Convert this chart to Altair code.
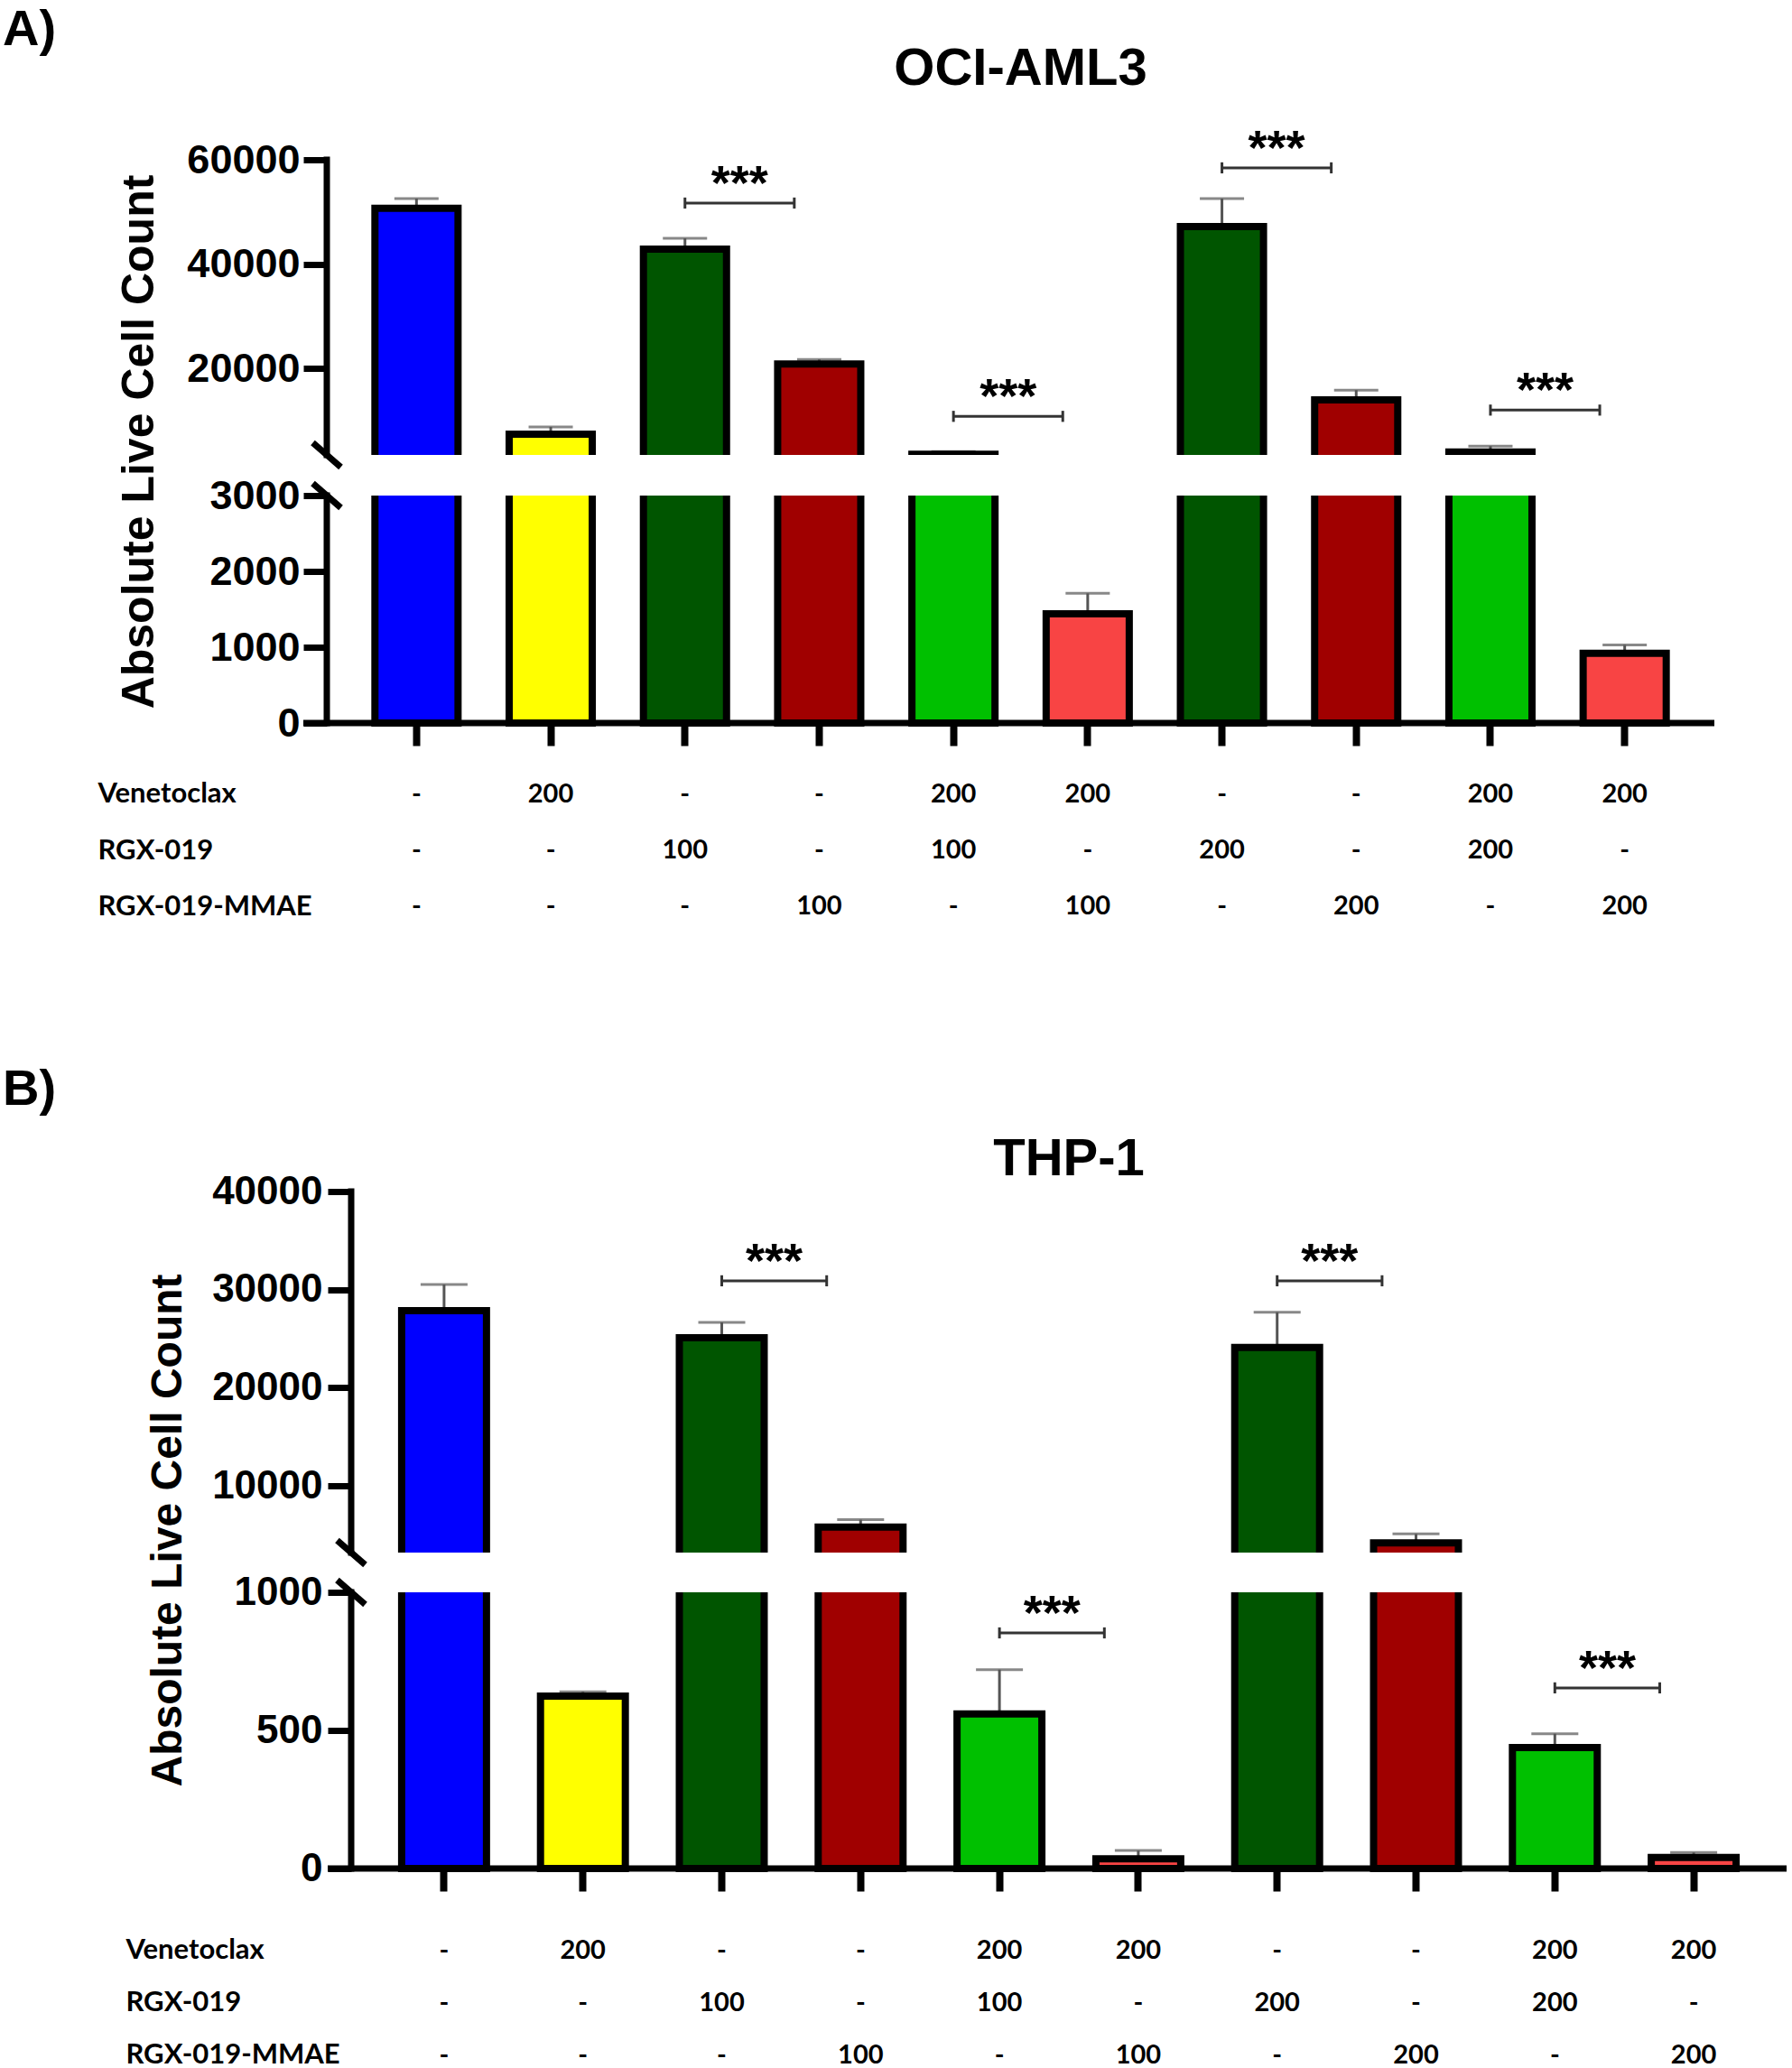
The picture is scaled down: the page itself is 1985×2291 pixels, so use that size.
import altair as alt
import pandas as pd

# ---------------- data ----------------
conditions = [
    "Control", "Venetoclax 200", "RGX-019 100", "RGX-019-MMAE 100",
    "Venetoclax 200 + RGX-019 100", "Venetoclax 200 + RGX-019-MMAE 100",
    "RGX-019 200", "RGX-019-MMAE 200",
    "Venetoclax 200 + RGX-019 200", "Venetoclax 200 + RGX-019-MMAE 200",
]
bar_colors = ["#0000FF", "#FFFF00", "#005500", "#A00000", "#00C000",
              "#F84444", "#005500", "#A00000", "#00C000", "#F84444"]

# OCI-AML3 (panel A): mean and upper error
oci_mean = [50700, 7400, 42850, 20860, 3550, 1440, 47200, 13950, 3950, 920]
oci_err = [1850, 1380, 2080, 860, 500, 270, 5350, 1880, 1150, 110]
oci_ticks = [0, 1000, 2000, 3000, 20000, 40000, 60000]
oci_break = [3000, 3400]
oci_sig_y = [51700, 10800, 58450, 12000]

# THP-1 (panel B)
thp_mean = [27860, 624, 25100, 5800, 560, 35, 24100, 4200, 438, 40]
thp_err = [2660, 16, 1560, 750, 160, 30, 3600, 900, 50, 18]
thp_ticks = [0, 500, 1000, 10000, 20000, 30000, 40000]
thp_break = [1000, 3200]
thp_sig_y = [30900, 853, 30900, 654]

sig_start = [2, 4, 6, 8]
sig_end = [3, 5, 7, 9]
sig_label = "***"

table_rows = ["Venetoclax", "RGX-019", "RGX-019-MMAE"]
venetoclax = ["-", "200", "-", "-", "200", "200", "-", "-", "200", "200"]
rgx019 = ["-", "-", "100", "-", "100", "-", "200", "-", "200", "-"]
rgx019_mmae = ["-", "-", "-", "100", "-", "100", "-", "200", "-", "200"]

AX_FONT = "Liberation Sans"
TB_FONT = "Lato"


def make_panel(letter, letter_dx, letter_offset, name, means, errs, ticks,
               brk, sig_y, width, height, y_range, p_in, p_out, cap_w,
               end_band, label_size, label_pad, title_size, title_pad,
               title_offset, table_h, table_pad, label_extent, spacing,
               shift=0):
    if shift:
        xs = alt.Scale(type="band", domain=conditions, paddingInner=p_in,
                       paddingOuter=p_out, range=[-shift, width])
    else:
        xs = alt.Scale(type="band", domain=conditions, paddingInner=p_in,
                       paddingOuter=p_out)
    ys = alt.Scale(domain=[0, brk[0], brk[1], ticks[-1]], range=y_range,
                   nice=False, zero=False)
    yaxis = alt.Axis(values=ticks, format="d", grid=False, domain=False,
                     offset=shift,
                     tickSize=26, tickWidth=7, tickColor="black",
                     labelFont=AX_FONT, labelFontWeight="bold",
                     labelFontSize=label_size, labelColor="black",
                     labelPadding=label_pad,
                     title="Absolute Live Cell Count", titleFont=AX_FONT,
                     titleFontWeight="bold", titleFontSize=title_size,
                     titleColor="black", titlePadding=title_pad)
    xaxis = alt.Axis(labels=False, domain=False, grid=False, ticks=True,
                     tickSize=25, tickWidth=8, tickColor="black", title=None)

    def X(field, band=0.5):
        return alt.X(field, type="nominal", scale=xs, bandPosition=band,
                     axis=xaxis)

    def Y(field):
        return alt.Y(field, type="quantitative", scale=ys, axis=yaxis)

    df = pd.DataFrame({
        "cond": conditions,
        "mean": means,
        "top": [m + e for m, e in zip(means, errs)],
    })
    sig = pd.DataFrame({
        "c1": [conditions[i] for i in sig_start],
        "c2": [conditions[i] for i in sig_end],
        "y": sig_y,
        "label": [sig_label] * len(sig_y),
    })
    gap = pd.DataFrame({"lo": [brk[0]], "hi": [brk[1]]})
    yseg = pd.DataFrame({"a": [0, brk[1]], "b": [brk[0], ticks[-1]]})
    brk_df = pd.DataFrame({"v": brk})
    zero_df = pd.DataFrame({"z": [0]})

    stems = alt.Chart(df).mark_rule(color="#555555", strokeWidth=3).encode(
        x=X("cond"), y=Y("mean"), y2="top:Q")
    caps = alt.Chart(df).mark_tick(color="#555555", thickness=3,
                                   size=cap_w).encode(x=X("cond"), y=Y("top"))
    bars = alt.Chart(df).mark_bar(stroke="black", strokeWidth=8).encode(
        x=X("cond"), y=Y("mean"), y2=alt.datum(0),
        fill=alt.Fill("cond:N", scale=alt.Scale(domain=conditions,
                                                range=bar_colors),
                      legend=None))
    gap_rect = alt.Chart(gap).mark_rect(color="white").encode(
        x=alt.value(-shift), x2=alt.value(width), y=Y("lo"), y2="hi:Q")
    y_line = alt.Chart(yseg).mark_rule(color="black", strokeWidth=7,
                                        strokeCap="square").encode(
        x=alt.value(-shift), y=Y("a"), y2="b:Q")
    x_line = alt.Chart(zero_df).mark_rule(color="black", strokeWidth=7).encode(
        x=alt.value(-shift - 26), x2=alt.value(width), y=Y("z"))
    brk_marks = alt.Chart(brk_df).mark_point(
        shape="M-1,-0.87L1,0.87", size=961, filled=False, color="black",
        strokeWidth=7, opacity=1).encode(x=alt.value(-shift), y=Y("v"))
    br_line = alt.Chart(sig).mark_rule(color="#333333", strokeWidth=3).encode(
        x=X("c1"), x2=alt.X2("c2", bandPosition=end_band), y=Y("y"))
    br_cap1 = alt.Chart(sig).mark_point(
        shape="M0,-1L0,1", size=150, filled=False, color="#333333",
        strokeWidth=3, opacity=1).encode(x=X("c1"), y=Y("y"))
    br_cap2 = alt.Chart(sig).mark_point(
        shape="M0,-1L0,1", size=150, filled=False, color="#333333",
        strokeWidth=3, opacity=1).encode(x=X("c2", band=end_band), y=Y("y"))
    full_w = width + shift
    step = full_w / (len(conditions) - p_in + 2 * p_out)
    bw = step * (1 - p_in)
    half_len = (step - (0.5 - end_band) * bw) / 2
    stars = alt.Chart(sig).mark_text(
        font=AX_FONT, fontSize=54, fontWeight="bold", color="black",
        baseline="alphabetic", dy=-4, dx=half_len).encode(
        x=X("c1"), y=Y("y"), text="label:N")

    chart = alt.layer(
        stems, caps, bars, gap_rect, y_line, x_line, brk_marks,
        br_line, br_cap1, br_cap2, stars,
    ).properties(
        width=width, height=height,
        title=alt.TitleParams(name, font=AX_FONT, fontSize=58,
                              fontWeight="bold", color="black",
                              anchor="middle", frame="group",
                              dx=-shift / 2, offset=title_offset),
    )

    trows = []
    for row, vals in zip(table_rows, [venetoclax, rgx019, rgx019_mmae]):
        for c, v in zip(conditions, vals):
            trows.append({"row": row, "cond": c, "val": v})
    tdf = pd.DataFrame(trows)
    table = alt.Chart(tdf).mark_text(
        font=TB_FONT, fontWeight="bold", fontSize=29, color="black").encode(
        x=alt.X("cond:N", scale=xs, bandPosition=0.5, axis=None),
        y=alt.Y("row:N", sort=table_rows,
                scale=alt.Scale(type="point", padding=table_pad),
                axis=alt.Axis(title=None, domain=False, ticks=False,
                              tickSize=0, labelAlign="left", labelLimit=0,
                              labelPadding=label_extent + shift,
                              labelFont=TB_FONT,
                              labelFontWeight="bold", labelFontSize=31,
                              labelColor="black")),
        text="val:N",
    ).properties(width=width, height=table_h)

    return alt.vconcat(
        chart, table, spacing=spacing,
        title=alt.TitleParams(letter, font=AX_FONT, fontSize=56,
                              fontWeight="bold", color="black",
                              anchor="start", dx=letter_dx,
                              offset=letter_offset),
    ).resolve_scale(x="independent", y="independent", fill="independent")


panel_a = make_panel(
    "A)", -105, -14, "OCI-AML3", oci_mean, oci_err, oci_ticks, oci_break,
    oci_sig_y, width=1510, height=624, y_range=[624, 372, 327, 0],
    p_in=0.381, p_out=0.3585, cap_w=49, end_band=0.2,
    label_size=45, label_pad=4, title_size=50, title_pad=27,
    title_offset=33, table_h=156, table_pad=0.25, label_extent=254,
    spacing=33, shift=27)

panel_b = make_panel(
    "B)", -136, 20, "THP-1", thp_mean, thp_err, thp_ticks, thp_break,
    thp_sig_y, width=1590, height=750, y_range=[750, 444, 400, 0],
    p_in=0.389, p_out=0.3635, cap_w=52, end_band=0.1,
    label_size=44, label_pad=6, title_size=48, title_pad=24,
    title_offset=-16, table_h=145, table_pad=0.25, label_extent=250,
    spacing=45)

chart = alt.vconcat(panel_a, panel_b, spacing=159).resolve_scale(
    x="independent", y="independent", fill="independent"
).properties(
    padding={"left": 3, "top": 4, "right": 0, "bottom": 0},
    background="white",
).configure_view(stroke=None)

chart.save("out.html", embed_options={"renderer": "svg", "actions": False})
